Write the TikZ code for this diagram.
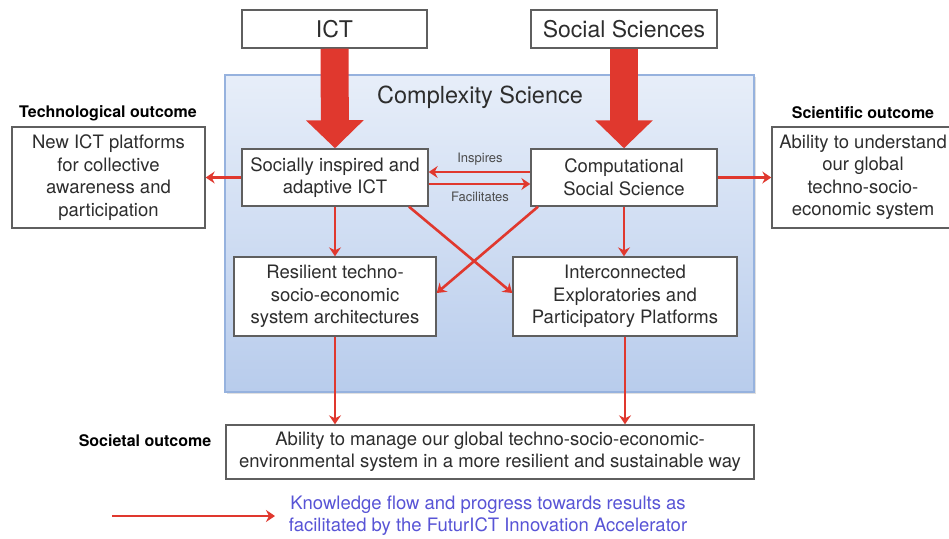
\documentclass[tikz,border=0pt]{standalone}
\usepackage{fontspec}
\setmainfont{TeX Gyre Heros}
\usetikzlibrary{arrows.meta,calc,shadows}
\definecolor{arrred}{RGB}{224,56,46}
\definecolor{boxline}{RGB}{95,95,95}
\definecolor{txt}{RGB}{45,45,45}
\definecolor{bgtop}{RGB}{231,238,249}
\definecolor{bgbot}{RGB}{184,204,236}
\definecolor{bgline}{RGB}{150,178,222}
\definecolor{legend}{RGB}{88,84,214}
\tikzset{
  box/.style={draw=boxline, line width=1.4pt, fill=white, text=txt, inner sep=0pt, align=center,
    font=\fontsize{18.5}{22.5}\selectfont},
  bigbox/.style={box, font=\fontsize{23}{26}\selectfont},
  outlbl/.style={text=black, font=\bfseries\fontsize{16}{18}\selectfont, inner sep=0pt},
  thin/.style={draw=arrred, line width=2.6pt, -{Stealth[length=9pt,width=12pt,inset=3pt]}},
  fat/.style={draw=arrred, line width=28pt, -{Triangle[length=28pt,width=56pt]}},
  smalllbl/.style={text=txt!85, font=\fontsize{13}{15}\selectfont, inner sep=0pt}
}
\begin{document}
\begin{tikzpicture}[x=1pt,y=-1pt]
\clip (0,0) rectangle (949,538);
\fill[white] (0,0) rectangle (949,538);
% background Complexity Science
\node[draw=bgline, line width=1.2pt, top color=bgtop, bottom color=bgbot,
  drop shadow={shadow xshift=2pt, shadow yshift=-2pt, fill=black!30, opacity=0.4},
  minimum width=529pt, minimum height=317pt, inner sep=0pt] (cs) at (489.5,233.5) {};
\node[text=txt, font=\fontsize{23.5}{26}\selectfont, inner sep=0pt] (cstitle) at (480,97) {Complexity Science};
% top boxes
\node[bigbox, minimum width=185pt, minimum height=38pt] (ict) at (334.5,29) {ICT};
\node[bigbox, minimum width=186pt, minimum height=38pt] (soc) at (624,29) {Social Sciences};
% inner boxes
\node[box, minimum width=186pt, minimum height=57pt] (sia) at (335,177.5) {Socially inspired and\\adaptive ICT};
\node[box, minimum width=186pt, minimum height=57pt] (css) at (624,177.5) {Computational\\Social Science};
\node[box, minimum width=202pt, minimum height=79pt] (res) at (335,296.5) {Resilient techno-\\socio-economic\\system architectures};
\node[box, minimum width=224pt, minimum height=79pt] (iep) at (625,296.5) {Interconnected\\Exploratories and\\Participatory Platforms};
% outcome boxes
\node[box, minimum width=193pt, minimum height=101pt] (tech) at (108.5,177.5) {New ICT platforms\\for collective\\awareness and\\participation};
\node[box, minimum width=182pt, minimum height=101pt] (sci) at (863,177.5) {Ability to understand\\our global\\techno-socio-\\economic system};
\node[box, minimum width=528pt, minimum height=54pt] (soe) at (490,452) {Ability to manage our global techno-socio-economic-\\environmental system in a more resilient and sustainable way};
% labels
\node[outlbl] (techlbl) at (108,113) {Technological outcome};
\node[outlbl] (scilbl) at (863,113) {Scientific outcome};
\node[outlbl] (soelbl) at (145,441) {Societal outcome};
% big arrows
\draw[fat] (ict.south) -- (sia.north);
\draw[fat] (soc.south) -- (css.north);
% horizontal arrows between sia and css
\draw[thin] ($(css.west)+(0,-5.5)$) -- ($(sia.east)+(0,-5.5)$);
\draw[thin] ($(sia.east)+(0,6.5)$) -- ($(css.west)+(0,6.5)$);
\node[smalllbl] (insp) at (480,159) {Inspires};
\node[smalllbl] (facil) at (480,197) {Facilitates};
% outcome arrows
\draw[thin] (sia.west) -- (tech.east);
\draw[thin] (css.east) -- (sci.west);
% down arrows
\draw[thin] (sia.south) -- (res.north);
\draw[thin] (css.south) -- (css.south |- iep.north);
% crossing arrows
\draw[thin] ($(sia.south)+(74,0)$) -- ($(iep.west)+(0,-3.5)$);
\draw[thin] ($(css.south)+(-86,0)$) -- ($(res.east)+(0,-3.5)$);
% to societal outcome
\draw[thin] (res.south) -- (res.south |- soe.north);
\draw[thin] (iep.south) -- (iep.south |- soe.north);
% legend
\coordinate (la) at (112,516);
\coordinate (lb) at (275,516);
\draw[thin] (la) -- (lb);
\node[text=legend, align=center, font=\fontsize{18.5}{22}\selectfont, inner sep=0pt] (legtxt) at (488,516)
  {Knowledge flow and progress towards results as\\facilitated by the FuturICT Innovation Accelerator};
\end{tikzpicture}
\end{document}
